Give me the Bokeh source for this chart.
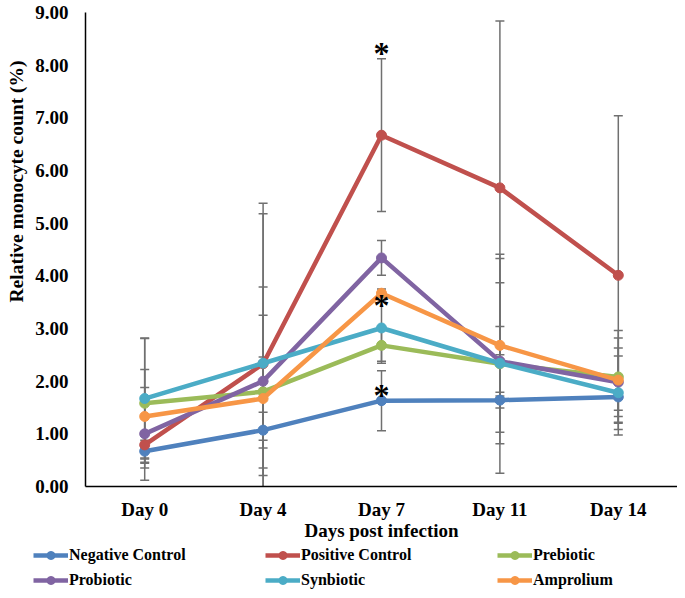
from bokeh.plotting import figure
from bokeh.models import (FactorRange, Range1d, Whisker, ColumnDataSource, Legend, LegendItem,
                          Title, FixedTicker, NumeralTickFormatter, TeeHead)
from bokeh.core.properties import value
from bokeh.embed import file_html
from bokeh.resources import INLINE

# ---------------- data ----------------
days = ["Day 0", "Day 4", "Day 7", "Day 11", "Day 14"]
series_names = ["Negative Control", "Positive Control", "Prebiotic",
                "Probiotic", "Synbiotic", "Amprolium"]

negative_control = [0.67, 1.07, 1.63, 1.64, 1.70]
negative_control_sd = [0.21, 0.34, 0.57, 0.15, 0.25]
positive_control = [0.79, 2.33, 6.67, 5.67, 4.01]
positive_control_sd = [0.25, 3.05, 1.45, 3.17, 3.03]
prebiotic = [1.58, 1.80, 2.68, 2.33, 2.08]
prebiotic_sd = [1.23, 1.45, 0.30, 2.08, 0.88]
probiotic = [1.00, 2.00, 4.34, 2.38, 1.98]
probiotic_sd = [0.88, 1.79, 0.33, 0.66, 0.65]
synbiotic = [1.67, 2.34, 3.01, 2.34, 1.78]
synbiotic_sd = [1.15, 2.84, 0.67, 1.53, 0.70]
amprolium = [1.33, 1.67, 3.67, 2.68, 2.02]
amprolium_sd = [0.89, 0.79, 0.08, 1.65, 0.80]

colors = ["#4F81BD", "#C0504D", "#9BBB59", "#8064A2", "#4BACC6", "#F79646"]
y_ticks = [0, 1, 2, 3, 4, 5, 6, 7, 8, 9]

# significance marks (series, day)
star_series = ["Positive Control", "Amprolium", "Negative Control"]
star_day = "Day 7"

means = [negative_control, positive_control, prebiotic, probiotic, synbiotic, amprolium]
sds = [negative_control_sd, positive_control_sd, prebiotic_sd, probiotic_sd, synbiotic_sd, amprolium_sd]

FONT = "Liberation Serif"
W = 677

p = figure(width=W, height=545, x_range=FactorRange(*days), y_range=Range1d(0, 9),
           output_backend="svg", toolbar_location=None,
           min_border_left=85, min_border_right=0, min_border_top=12, min_border_bottom=59)
p.outline_line_color = None
p.xgrid.grid_line_color = None
p.ygrid.grid_line_color = None
p.background_fill_color = "white"
p.border_fill_color = "white"

# error bars (drawn first, behind the lines)
for m, s in zip(means, sds):
    src = ColumnDataSource(dict(x=days, upper=[a + b for a, b in zip(m, s)],
                                lower=[a - b for a, b in zip(m, s)]))
    w = Whisker(base="x", upper="upper", lower="lower", source=src,
                line_color="#707070", line_width=1.5,
                upper_head=TeeHead(size=9, line_color="#707070", line_width=1.5),
                lower_head=TeeHead(size=9, line_color="#707070", line_width=1.5))
    p.add_layout(w)

sources = []
for name, m, c in zip(series_names, means, colors):
    src = ColumnDataSource(dict(x=days, y=m))
    sources.append(src)
    p.line("x", "y", source=src, line_color=c, line_width=4.5)
    p.scatter("x", "y", source=src, size=10, fill_color=c, line_color=c)

# asterisks
lookup = {n: (m, s) for n, m, s in zip(series_names, means, sds)}
di = days.index(star_day)
star_y = []
for n in star_series:
    m, s = lookup[n]
    star_y.append(m[di] + s[di] if n == "Positive Control" else m[di])
star_off = [-6, 12, -6]
p.text(x=[star_day] * 3, y=star_y, text=["*"] * 3, y_offset=star_off,
       text_font=value(FONT), text_font_size="32px", text_font_style="bold",
       text_align="center", text_baseline="middle", text_color="black")

# axes
for ax in (p.xaxis[0], p.yaxis[0]):
    ax.axis_line_color = "black"
    ax.axis_line_width = 1.5
    ax.major_tick_line_color = None
    ax.minor_tick_line_color = None
    ax.major_tick_out = 0
    ax.major_tick_in = 0
    ax.major_label_text_font = FONT
    ax.major_label_text_font_style = "bold"
    ax.major_label_text_font_size = "19px"
    ax.major_label_text_color = "black"

p.yaxis.ticker = FixedTicker(ticks=y_ticks)
p.yaxis.formatter = NumeralTickFormatter(format="0.00")
p.yaxis.major_label_standoff = 17

p.xaxis.major_label_standoff = 12
p.xaxis.axis_label = "Days post infection"
p.xaxis.axis_label_text_font = FONT
p.xaxis.axis_label_text_font_style = "bold"
p.xaxis.axis_label_text_font_size = "19px"
p.xaxis.axis_label_text_color = "black"
p.xaxis.axis_label_standoff = -3

ytitle = Title(text="Relative monocyte count (%)", align="left", offset=184,
               vertical_align="top",
               text_font=FONT, text_font_style="bold", text_font_size="19.5px",
               text_color="black", standoff=8)
p.add_layout(ytitle, "left")

# ---------------- legend strip ----------------
lg = figure(width=W, height=45, x_range=FactorRange(*days), y_range=Range1d(100, 101),
            output_backend="svg", toolbar_location=None,
            x_axis_type=None, y_axis_type=None,
            min_border_left=0, min_border_right=0, min_border_top=0, min_border_bottom=0)
lg.outline_line_color = None
lg.xgrid.grid_line_color = None
lg.ygrid.grid_line_color = None
lg.background_fill_color = "white"
lg.border_fill_color = "white"

items = []
for name, src, c in zip(series_names, sources, colors):
    rl = lg.line("x", "y", source=src, line_color=c, line_width=4.5)
    rp = lg.scatter("x", "y", source=src, size=10, fill_color=c, line_color=c)
    items.append(LegendItem(label=name, renderers=[rl, rp]))

col_x = [33, 265, 497]
for ci in range(3):
    leg = Legend(items=[items[ci], items[ci + 3]], location=(col_x[ci], 0),
                 orientation="vertical", glyph_width=35, glyph_height=20,
                 label_height=20, spacing=5, label_standoff=1, padding=0, margin=0,
                 border_line_color=None, background_fill_alpha=0,
                 label_text_font=FONT, label_text_font_style="bold",
                 label_text_font_size="16px", label_text_color="black")
    lg.add_layout(leg)

open("out.html", "w").write(file_html([p, lg], INLINE))
